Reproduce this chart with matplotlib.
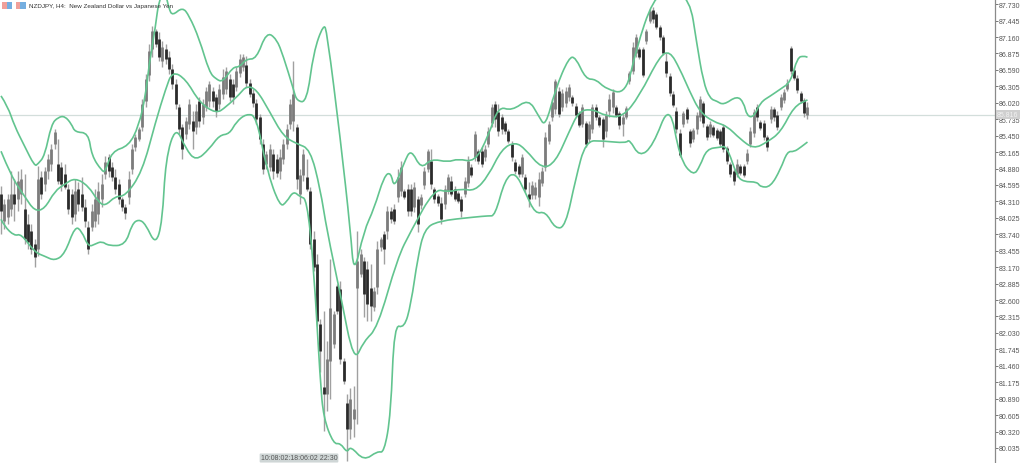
import numpy as np
import matplotlib
matplotlib.use('Agg')
import matplotlib.pyplot as plt
from matplotlib.patches import Rectangle, PathPatch
from matplotlib.path import Path

plt.rcParams['font.family'] = ['Liberation Sans', 'DejaVu Sans']

title = 'NZDJPY, H4:  New Zealand Dollar vs Japanese Yen'
last_price = 85.816
time_label = '10:08:02:18:06:02 22:30'

price_ticks = [87.730, 87.445, 87.160, 86.875, 86.590, 86.305, 86.020, 85.735, 85.450,
               85.165, 84.880, 84.595, 84.310, 84.025, 83.740, 83.455, 83.170, 82.885,
               82.600, 82.315, 82.030, 81.745, 81.460, 81.175, 80.890, 80.605, 80.320, 80.035]

# bars, one value per 4h candle
highs = [84.58, 84.35, 84.44, 84.84, 84.70, 84.84, 84.87, 84.78, 84.09, 83.92, 83.66, 84.92, 84.84, 84.91, 85.13, 85.31, 85.57, 85.39, 84.99, 84.96,
         84.61, 84.53, 84.70, 84.65, 84.73, 84.35, 83.97, 84.27, 84.53, 84.65, 84.78, 85.10, 85.13, 84.99, 84.87, 84.70, 84.39, 84.27, 84.84, 85.31,
         85.48, 85.60, 86.09, 86.52, 87.04, 87.35, 87.30, 87.25, 87.09, 87.04, 86.92, 86.69, 86.43, 86.00, 85.65, 85.77, 86.09, 85.88, 86.00, 86.12,
         86.09, 86.29, 86.40, 86.29, 86.17, 86.35, 86.61, 86.64, 86.52, 86.43, 86.64, 86.87, 86.87, 86.83, 86.43, 86.26, 86.09, 85.83, 85.39, 85.18,
         85.31, 85.22, 85.13, 85.22, 85.39, 85.65, 86.09, 86.75, 85.65, 84.87, 85.22, 85.05, 84.56, 83.80, 83.40, 82.27, 82.41, 81.89, 83.31, 82.41,
         82.88, 82.93, 81.59, 80.97, 81.07, 81.11, 83.80, 83.48, 83.35, 83.28, 83.22, 82.83, 83.62, 83.69, 83.80, 84.23, 84.21, 84.27, 84.87, 85.01,
         84.53, 84.61, 84.61, 84.65, 84.40, 84.44, 84.91, 85.22, 85.22, 84.56, 84.44, 84.39, 84.59, 84.78, 84.75, 84.58, 84.49, 84.40, 84.73, 85.10,
         84.96, 85.53, 85.22, 85.25, 85.29, 85.60, 86.00, 86.05, 86.00, 85.83, 85.70, 85.57, 85.36, 85.05, 84.96, 85.13, 84.78, 84.65, 84.66, 84.65,
         84.82, 84.91, 85.51, 85.70, 86.09, 86.43, 86.29, 86.26, 86.29, 86.35, 86.16, 86.02, 85.88, 86.00, 85.70, 85.70, 86.00, 86.00, 85.81, 85.77,
         85.88, 86.17, 86.26, 85.98, 85.88, 85.83, 85.96, 86.57, 87.07, 87.21, 86.99, 86.99, 87.30, 87.65, 87.68, 87.59, 87.37, 87.20, 86.88, 86.54,
         86.22, 85.95, 85.57, 85.88, 85.95, 85.57, 85.58, 85.86, 86.14, 86.05, 85.65, 85.70, 85.63, 85.58, 85.57, 85.65, 85.27, 84.99,
         84.87, 85.05, 84.96, 84.96, 85.22, 85.60, 85.91, 86.00, 85.72, 85.72, 85.46, 85.96, 85.95, 85.88, 86.17, 86.26, 86.43, 87.00, 86.64, 86.50,
         86.22, 86.10, 86.03]
lows = [83.75, 83.83, 83.92, 84.06, 83.97, 84.14, 84.27, 83.57, 83.48, 83.40, 83.17, 83.36, 84.35, 84.49, 84.70, 84.84, 85.22, 84.61, 84.49, 84.53,
        84.09, 83.92, 83.97, 84.14, 84.14, 83.87, 83.40, 83.80, 83.87, 83.92, 84.21, 84.70, 84.73, 84.66, 84.44, 84.27, 84.14, 84.00, 84.27, 84.78,
        85.18, 85.36, 85.53, 85.95, 86.40, 86.81, 86.99, 86.75, 86.64, 86.69, 86.52, 86.26, 85.91, 85.48, 85.05, 85.39, 85.57, 85.22, 85.48, 85.60,
        85.65, 85.88, 85.95, 85.95, 85.77, 85.91, 86.09, 86.17, 86.05, 86.00, 86.22, 86.47, 86.57, 86.29, 86.12, 85.95, 85.65, 85.31, 84.78, 84.87,
        84.84, 84.70, 84.73, 84.70, 84.96, 85.22, 85.57, 85.53, 84.53, 84.27, 84.66, 84.49, 83.48, 83.10, 82.15, 81.35, 80.33, 80.68, 80.88, 81.77,
        82.36, 81.49, 81.14, 79.81, 80.19, 80.23, 80.45, 83.00, 82.31, 82.24, 82.24, 82.41, 82.70, 83.45, 83.22, 83.66, 83.94, 83.92, 84.30, 84.40,
        84.35, 84.06, 84.06, 84.13, 83.78, 84.18, 84.53, 84.82, 84.53, 84.28, 84.23, 83.92, 84.18, 84.44, 84.40, 84.32, 84.28, 84.04, 84.39, 84.56,
        84.73, 85.01, 84.96, 84.91, 85.01, 85.25, 85.60, 85.60, 85.44, 85.48, 85.48, 85.32, 85.01, 84.78, 84.73, 84.73, 84.47, 84.21, 84.35, 84.35,
        84.23, 84.58, 84.84, 85.31, 85.70, 85.83, 85.77, 85.88, 85.95, 86.05, 85.96, 85.77, 85.60, 85.60, 85.25, 85.34, 85.50, 85.72, 85.60, 85.25,
        85.43, 85.77, 85.84, 85.77, 85.57, 85.44, 85.74, 86.35, 86.52, 86.81, 86.78, 86.47, 87.04, 87.40, 87.40, 87.30, 87.11, 86.85, 86.47, 86.14,
        85.95, 85.50, 85.08, 85.60, 85.67, 85.25, 85.34, 85.48, 85.70, 85.60, 85.37, 85.43, 85.43, 85.37, 85.25, 85.17, 84.96, 84.73,
        84.59, 84.73, 84.77, 84.73, 84.96, 85.25, 85.43, 85.70, 85.55, 85.37, 85.18, 85.67, 85.70, 85.55, 85.90, 86.02, 86.22, 86.52, 86.42, 86.19,
        86.02, 85.77, 85.74]
opens = [84.44, 83.97, 84.04, 84.18, 84.44, 84.35, 84.44, 84.18, 83.92, 83.80, 83.57, 83.48, 84.73, 84.61, 84.84, 84.96, 85.31, 84.96, 84.91, 84.78,
         84.53, 84.44, 84.09, 84.53, 84.44, 84.21, 83.87, 83.87, 83.97, 84.09, 84.35, 84.78, 85.08, 84.91, 84.73, 84.61, 84.35, 84.21, 84.39, 84.87,
         85.25, 85.39, 85.60, 86.05, 86.50, 86.95, 87.27, 87.13, 86.75, 86.95, 86.81, 86.61, 86.35, 85.95, 85.60, 85.48, 85.65, 85.70, 85.60, 86.05,
         85.77, 85.95, 86.05, 86.22, 86.12, 86.00, 86.17, 86.26, 86.43, 86.35, 86.29, 86.54, 86.64, 86.68, 86.36, 86.19, 86.02, 85.77, 85.31, 84.96,
         84.91, 85.13, 85.05, 84.84, 85.05, 85.31, 85.65, 85.70, 85.60, 84.44, 84.77, 84.73, 84.49, 83.66, 83.22, 82.18, 81.09, 80.97, 81.54, 81.84,
         82.84, 82.79, 81.54, 80.81, 80.36, 80.54, 82.81, 83.05, 83.28, 83.14, 82.81, 82.48, 82.83, 83.52, 83.75, 83.80, 84.14, 84.18, 84.39, 84.49,
         84.49, 84.53, 84.53, 84.21, 84.35, 84.25, 84.59, 84.87, 85.01, 84.53, 84.40, 84.28, 84.27, 84.49, 84.66, 84.53, 84.46, 84.35, 84.44, 84.63,
         84.91, 85.08, 85.18, 85.18, 85.08, 85.31, 85.67, 86.00, 85.86, 85.77, 85.67, 85.53, 85.31, 84.99, 84.92, 84.78, 84.73, 84.44, 84.42, 84.42,
         84.39, 84.63, 84.91, 85.36, 85.77, 85.91, 86.22, 85.95, 86.02, 86.12, 86.12, 85.96, 85.84, 85.65, 85.67, 85.39, 85.57, 85.95, 85.77, 85.74,
         85.53, 85.88, 85.95, 85.95, 85.84, 85.65, 85.77, 86.40, 86.57, 86.88, 86.95, 86.95, 87.09, 87.44, 87.63, 87.56, 87.33, 87.16, 86.75, 86.48,
         86.17, 85.88, 85.50, 85.65, 85.91, 85.53, 85.39, 85.57, 85.77, 86.02, 85.62, 85.48, 85.60, 85.55, 85.53, 85.60, 85.24, 84.96,
         84.84, 84.78, 84.92, 84.92, 85.01, 85.31, 85.50, 85.95, 85.69, 85.67, 85.43, 85.74, 85.91, 85.81, 85.95, 86.07, 86.26, 86.97, 86.59, 86.45,
         86.19, 86.07, 85.81]
closes = [84.14, 84.27, 84.35, 84.44, 84.27, 84.66, 84.70, 83.66, 83.61, 83.48, 83.35, 84.70, 84.44, 84.84, 85.05, 85.22, 85.51, 84.66, 84.61, 84.56,
          84.18, 84.04, 84.49, 84.27, 84.21, 83.97, 83.48, 84.14, 84.35, 84.49, 84.61, 84.99, 84.84, 84.73, 84.53, 84.35, 84.21, 84.11, 84.70, 85.22,
          85.43, 85.57, 86.00, 86.43, 86.92, 87.27, 87.04, 86.81, 86.99, 86.78, 86.61, 86.35, 86.00, 85.57, 85.22, 85.70, 86.00, 85.53, 85.88, 85.70,
          86.00, 86.22, 86.35, 86.05, 85.88, 86.26, 86.47, 86.57, 86.12, 86.12, 86.57, 86.78, 86.81, 86.36, 86.17, 86.02, 85.74, 85.39, 84.87, 85.13,
          85.22, 84.84, 84.80, 85.08, 85.31, 85.57, 86.00, 86.17, 84.70, 84.77, 85.13, 84.53, 83.57, 83.17, 82.24, 81.72, 80.97, 81.58, 82.46, 82.36,
          82.41, 81.58, 81.20, 80.36, 80.88, 80.71, 83.28, 83.40, 82.70, 82.53, 82.50, 82.76, 83.48, 83.66, 83.48, 84.14, 84.00, 83.97, 84.73, 84.91,
          84.39, 84.14, 84.14, 84.56, 83.92, 84.39, 84.84, 85.18, 84.61, 84.35, 84.28, 84.00, 84.53, 84.73, 84.44, 84.35, 84.32, 84.14, 84.66, 85.01,
          84.77, 85.48, 85.01, 84.96, 85.22, 85.53, 85.95, 85.74, 85.53, 85.57, 85.53, 85.36, 85.08, 84.84, 84.78, 85.08, 84.53, 84.35, 84.59, 84.56,
          84.70, 84.84, 85.43, 85.65, 86.03, 86.40, 85.83, 86.19, 86.22, 86.29, 86.02, 85.81, 85.63, 85.95, 85.31, 85.65, 85.95, 85.77, 85.63, 85.39,
          85.81, 86.09, 86.21, 85.81, 85.63, 85.77, 85.93, 86.54, 86.99, 87.16, 86.81, 86.50, 87.27, 87.61, 87.47, 87.33, 87.16, 86.88, 86.54, 86.19,
          85.98, 85.57, 85.12, 85.84, 85.74, 85.32, 85.55, 85.81, 86.09, 85.67, 85.43, 85.65, 85.46, 85.41, 85.31, 85.22, 85.01, 84.78,
          84.66, 84.96, 84.80, 84.77, 85.15, 85.53, 85.86, 85.77, 85.58, 85.43, 85.25, 85.91, 85.77, 85.60, 86.12, 86.21, 86.36, 86.57, 86.45, 86.24,
          86.05, 85.84, 85.95]

# bollinger bands, read at the bends of each curve
upper_bar = [0, 2, 4, 7, 10, 11, 13, 15, 17, 19, 21, 22, 26, 27, 30, 31, 33, 38, 41, 43, 44, 46, 47, 49, 50, 51, 54, 56, 59, 62,
             64, 66, 69, 71, 73, 76, 79, 82, 84, 87, 88, 91, 93, 96, 97, 101, 104, 105, 108, 111, 114, 116, 117, 120, 122, 125, 128, 133, 136, 141,
             145, 148, 152, 157, 160, 162, 165, 169, 171, 174, 177, 180, 186, 189, 194, 199, 205, 207, 209, 211, 213, 215, 219, 221, 222, 224, 226, 229, 232, 235,
             237, 239, 240]
upper_val = [86.14, 85.96, 85.62, 85.27, 84.92, 84.96, 85.10, 85.65, 85.77, 85.79, 85.65, 85.51, 85.50, 85.10, 84.84, 84.82, 85.18, 85.27, 85.62, 86.14,
             86.66, 87.35, 87.82, 87.91, 87.65, 87.53, 87.68, 87.53, 87.13, 86.55, 86.43, 86.38, 86.64, 86.64, 86.78, 86.78, 87.25, 87.13, 86.83, 86.26,
             86.05, 86.03, 86.90, 87.39, 87.25, 85.39, 83.80, 83.02, 83.80, 84.18, 84.75, 84.82, 84.53, 84.99, 85.22, 84.87, 85.05, 84.99, 85.05, 84.99,
             85.44, 85.96, 85.88, 86.09, 85.79, 85.60, 86.26, 86.81, 86.81, 86.43, 86.43, 86.26, 86.17, 86.95, 87.82, 87.99, 87.82, 87.07, 86.38, 86.09,
             86.05, 85.98, 86.14, 86.03, 85.79, 85.77, 86.03, 86.14, 86.26, 86.38, 86.81, 86.83, 86.81]
middle_bar = [0, 3, 7, 10, 13, 16, 19, 22, 26, 29, 31, 34, 37, 42, 46, 49, 51, 55, 59, 64, 67, 71, 73, 76, 80, 84, 88, 92, 95, 97,
              101, 105, 108, 112, 118, 122, 129, 133, 137, 141, 145, 149, 153, 156, 161, 165, 169, 172, 176, 180, 185, 190, 196, 199, 202, 205, 208, 212, 216, 220,
              224, 228, 232, 236, 240]
middle_val = [85.18, 84.75, 84.40, 84.14, 84.18, 84.49, 84.61, 84.72, 84.58, 84.30, 84.23, 84.40, 84.40, 84.82, 85.69, 86.26, 86.57, 86.43, 86.03, 85.83,
              85.95, 86.17, 86.31, 86.26, 85.86, 85.44, 85.31, 85.22, 84.53, 83.80, 82.70, 81.51, 81.89, 82.11, 83.33, 83.80, 84.53, 84.47, 84.53, 84.49,
              84.75, 85.22, 85.34, 85.22, 84.87, 84.99, 85.51, 85.88, 85.91, 85.79, 85.77, 86.14, 86.83, 86.92, 86.61, 86.21, 85.86, 85.69, 85.62, 85.39,
              85.22, 85.34, 85.51, 85.96, 86.07]
lower_bar = [0, 1, 4, 6, 10, 13, 16, 19, 22, 24, 26, 28, 30, 32, 37, 39, 41, 43, 46, 48, 49, 52, 55, 58, 62, 65, 68, 70, 73, 76,
             79, 83, 85, 87, 89, 91, 93, 95, 96, 99, 101, 103, 104, 108, 112, 114, 116, 117, 120, 122, 124, 126, 130, 141, 145, 147, 150, 153, 156, 159,
             162, 165, 168, 171, 174, 179, 186, 187, 190, 194, 199, 202, 206, 208, 210, 214, 216, 219, 221, 225, 226, 229, 232, 234, 236, 238, 240]
lower_val = [84.00, 83.88, 83.71, 83.75, 83.43, 83.36, 83.28, 83.40, 83.88, 83.80, 83.52, 83.57, 83.62, 83.54, 83.55, 83.92, 84.00, 83.92, 83.55, 83.95,
             85.05, 85.62, 85.22, 85.01, 85.22, 85.46, 85.48, 85.69, 85.83, 85.79, 84.87, 84.21, 84.30, 84.49, 84.39, 84.35, 83.22, 81.20, 80.55, 80.10,
             80.12, 79.95, 80.07, 79.81, 79.98, 79.95, 80.62, 82.18, 82.11, 82.53, 83.33, 83.83, 83.97, 84.04, 84.06, 84.06, 84.70, 84.82, 84.47, 84.09,
             84.14, 83.83, 83.88, 84.70, 85.36, 85.36, 85.32, 85.39, 85.08, 85.27, 86.03, 85.05, 84.75, 84.92, 85.22, 85.25, 85.27, 84.75, 84.65, 84.65,
             84.56, 84.56, 84.87, 85.18, 85.17, 85.25, 85.34]


def draw_band(ax, xs, ys, color):
    # quadratic curves through the midpoints, the real bands are smooth
    verts = [(xs[0], ys[0])]
    codes = [Path.MOVETO]
    for i in range(1, len(xs) - 1):
        verts.append((xs[i], ys[i]))
        verts.append(((xs[i] + xs[i + 1]) / 2, (ys[i] + ys[i + 1]) / 2))
        codes += [Path.CURVE3, Path.CURVE3]
    verts.append((xs[-1], ys[-1]))
    codes.append(Path.LINETO)
    ax.add_patch(PathPatch(Path(verts, codes), fill=False, ec=color, lw=1.2, zorder=4))


fig = plt.figure(figsize=(10.24, 4.64), dpi=100)
ax = fig.add_axes([0, 0, 995 / 1024, 1])

bars = np.arange(len(highs))
o = np.array(opens)
c = np.array(closes)
up = c >= o

# wicks first, then bodies on top
ax.vlines(bars, lows, highs, color='#a0a0a0', lw=1.0, zorder=2)
ax.vlines(bars[up], o[up], c[up], color='#7c7c7c', lw=2.0, zorder=3)
ax.vlines(bars[~up], o[~up], c[~up], color='#2b2b2b', lw=2.0, zorder=3)

band_color = '#62c48f'
draw_band(ax, upper_bar, upper_val, band_color)
draw_band(ax, middle_bar, middle_val, band_color)
draw_band(ax, lower_bar, lower_val, band_color)

ax.axhline(last_price, color='#d3dedb', lw=0.9, zorder=1)

ax.set_xlim(-0.3, 295.8)
ax.set_ylim(79.774, 87.82)
ax.set_xticks([])
ax.yaxis.tick_right()
ax.set_yticks(price_ticks)
ax.set_yticklabels(['%.3f' % p for p in price_ticks])
ax.tick_params(axis='y', length=2.0, width=0.7, color='#777777', labelcolor='#555555', labelsize=5.0, pad=0.8)
for side in ['left', 'top', 'bottom']:
    ax.spines[side].set_visible(False)
ax.spines['right'].set_color('#8a8a8a')
ax.spines['right'].set_linewidth(0.9)

# current price tag on the scale
ax.annotate('%.3f' % last_price, xy=(1, last_price), xycoords=('axes fraction', 'data'),
            xytext=(1.6, 0), textcoords='offset points', va='center', ha='left', fontsize=5.0,
            color='#f2f2f2', annotation_clip=False, zorder=6,
            bbox=dict(boxstyle='square,pad=0.2', fc='#cfcfcf', ec='none'))

# symbol line, top left
W, H = 1024, 464
for x0, x1, col in [(2, 7, '#f0a09a'), (7, 12, '#74aee0'), (16, 20, '#f0a09a'), (20, 26, '#74aee0')]:
    fig.add_artist(Rectangle((x0 / W, 1 - 10 / H), (x1 - x0) / W, 7 / H, transform=fig.transFigure,
                             fc=col, ec='none', zorder=7))
fig.text(29 / W, 1 - 6.5 / H, title, fontsize=4.5, color='#333333', va='center', ha='left', zorder=7)

# time label under the cursor
fig.text(299 / W, 1 - 459 / H, time_label, fontsize=5.0, color='#555555', va='center', ha='center', zorder=7,
         bbox=dict(boxstyle='round,pad=0.15', fc='#cfd6d6', ec='none'))

fig.savefig('out.png', dpi=100)
